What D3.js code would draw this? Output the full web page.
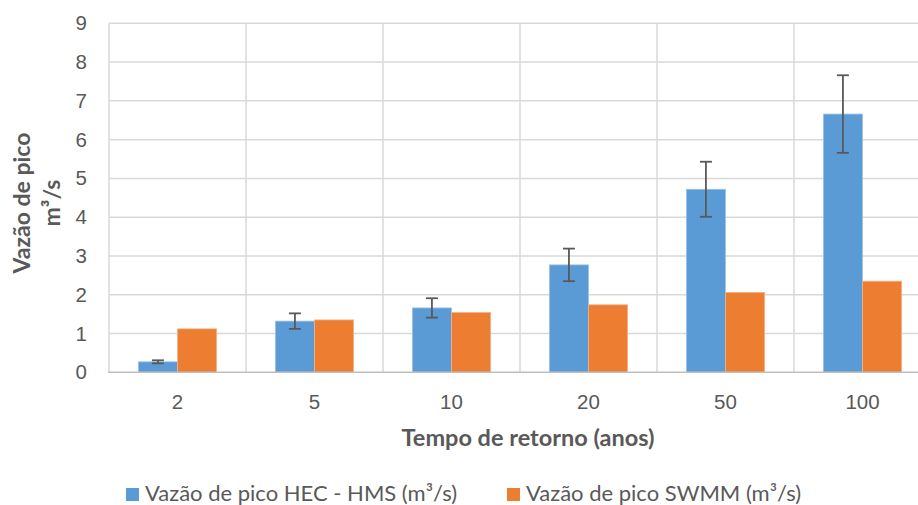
<!DOCTYPE html>
<html>
<head>
<meta charset="utf-8">
<script src="https://cdn.jsdelivr.net/npm/d3@7"></script>
<style>
  html, body { margin: 0; padding: 0; background: #fff; overflow: hidden; }
  svg { display: block; font-family: Lato, "Open Sans", sans-serif; }
</style>
</head>
<body>
<svg id="chart" width="918" height="505"></svg>
<script>
// Return periods (years) on the x axis
const categories = ["2", "5", "10", "20", "50", "100"];
// Peak discharge per model (m³/s)
const hecHms = [0.27, 1.32, 1.66, 2.77, 4.72, 6.66];
const swmm = [1.12, 1.35, 1.54, 1.74, 2.06, 2.35];
// Error-bar half-widths for the HEC-HMS series
const hecHmsError = [0.04, 0.2, 0.25, 0.42, 0.71, 1.0];
const seriesNames = ["Vazão de pico HEC - HMS (m³/s)", "Vazão de pico SWMM (m³/s)"];
const yTicks = [0, 1, 2, 3, 4, 5, 6, 7, 8, 9];

const colors = ["#5B9BD5", "#ED7D31"];
const edgeColors = ["#9DC3E6", "#F4B183"];
const textColor = "#595959";
const gridColor = "#D9D9D9";

const svg = d3.select("#chart");
const plotLeft = 109, plotRight = 931, plotTop = 23.3, plotBottom = 372.3;

const x0 = d3.scaleBand().domain(categories).range([plotLeft, plotRight]).padding(0);
const x1 = d3.scaleBand().domain([0, 1]).range([0, x0.bandwidth()])
  .paddingInner(0).paddingOuter(0.75);
const y = d3.scaleLinear().domain([0, 9]).range([plotBottom, plotTop]);

// Horizontal gridlines
svg.append("g").selectAll("line").data(yTicks.slice(1)).join("line")
  .attr("x1", plotLeft).attr("x2", plotRight)
  .attr("y1", d => y(d)).attr("y2", d => y(d))
  .attr("stroke", gridColor).attr("stroke-width", 1.5);

// Vertical gridlines at category boundaries
const bounds = categories.map(c => x0(c)).concat([plotRight]);
svg.append("g").selectAll("line").data(bounds).join("line")
  .attr("x1", d => d).attr("x2", d => d)
  .attr("y1", plotTop).attr("y2", plotBottom)
  .attr("stroke", gridColor).attr("stroke-width", 1.5);

// Y axis labels
const yAxis = svg.append("g").attr("transform", `translate(${plotLeft},0)`)
  .call(d3.axisLeft(y).tickValues(yTicks).tickSize(0).tickPadding(22));
yAxis.select(".domain").remove();
yAxis.selectAll("text").attr("fill", textColor).attr("font-size", 20.5);

// Bars
const series = [hecHms, swmm];
series.forEach((vals, si) => {
  svg.append("g").selectAll("rect").data(vals).join("rect")
    .attr("x", (d, i) => x0(categories[i]) + x1(si))
    .attr("width", x1.bandwidth())
    .attr("y", d => y(d))
    .attr("height", d => y(0) - y(d))
    .attr("fill", colors[si])
    .attr("stroke", edgeColors[si]).attr("stroke-width", 0.8);
});

// Error bars on the HEC-HMS series
const eg = svg.append("g").attr("stroke", "#595959").attr("stroke-width", 1.8);
hecHms.forEach((v, i) => {
  const cx = x0(categories[i]) + x1(0) + x1.bandwidth() / 2;
  const lo = y(v - hecHmsError[i]), hi = y(v + hecHmsError[i]);
  eg.append("line").attr("x1", cx).attr("x2", cx).attr("y1", lo).attr("y2", hi);
  eg.append("line").attr("x1", cx - 6).attr("x2", cx + 6).attr("y1", lo).attr("y2", lo);
  eg.append("line").attr("x1", cx - 6).attr("x2", cx + 6).attr("y1", hi).attr("y2", hi);
});

// X axis line and labels
svg.append("line").attr("x1", plotLeft - 1).attr("x2", plotRight)
  .attr("y1", plotBottom).attr("y2", plotBottom)
  .attr("stroke", "#BFBFBF").attr("stroke-width", 1.5);
const xAxis = svg.append("g").attr("transform", `translate(0,${plotBottom})`)
  .call(d3.axisBottom(x0).tickSize(0).tickPadding(22));
xAxis.select(".domain").remove();
xAxis.selectAll("text").attr("fill", textColor).attr("font-size", 20.5);

// Axis titles
svg.append("text").attr("x", 528).attr("y", 446)
  .attr("text-anchor", "middle").attr("font-weight", "bold")
  .attr("font-size", 23.5).attr("fill", textColor)
  .text("Tempo de retorno (anos)");

const yt = svg.append("text").attr("transform", "translate(0,203) rotate(-90)")
  .attr("text-anchor", "middle").attr("font-weight", "bold")
  .attr("font-size", 23).attr("fill", textColor);
yt.append("tspan").attr("x", 0).attr("y", 30).text("Vazão de pico");
yt.append("tspan").attr("x", 0).attr("y", 60).text("m³/s");

// Legend
const legendX = [126, 507];
seriesNames.forEach((name, i) => {
  const g = svg.append("g").attr("transform", `translate(${legendX[i]},488)`);
  g.append("rect").attr("width", 13).attr("height", 13).attr("fill", colors[i]);
  g.append("text").attr("x", 19).attr("y", 13)
    .attr("font-size", 22).attr("fill", textColor).text(name);
});
</script>
</body>
</html>
